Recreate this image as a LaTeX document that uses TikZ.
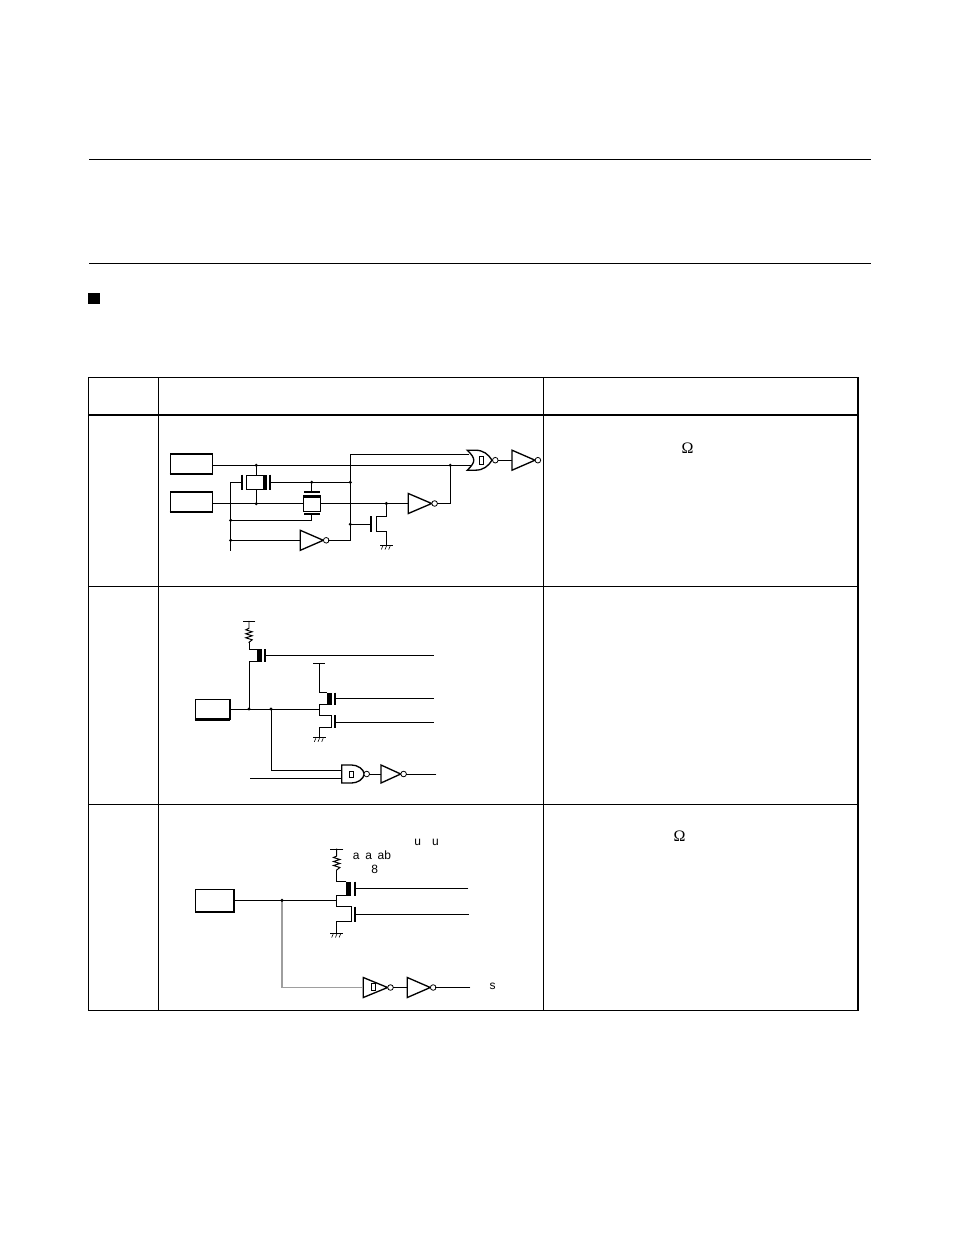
\documentclass[tikz,border=0pt]{standalone}
\usepackage{fontspec}
\setmainfont{Liberation Sans}
\newfontfamily\omfont{Liberation Serif}
\tikzset{
  x=0.75pt,y=-0.75pt,
  wire/.style={line width=0.74pt,line cap=rect},
  gray wire/.style={line width=0.95pt,draw=black!38},
  rule/.style={line width=0.7pt},
  grid line/.style={line width=0.74pt},
  head line/.style={line width=1.5pt},
  gatebar/.style={line width=1.5pt},
  junction/.style={circle,fill=black,inner sep=0pt,minimum size=2.6pt},
  bubble/.style={line width=0.6pt,fill=white},
  gateshape/.style={line width=1pt,fill=white,line join=miter},
  lbl/.style={inner sep=0pt,font=\fontsize{9}{10}\selectfont},
  om/.style={inner sep=0pt,font=\fontsize{12}{12}\selectfont\omfont},
  padbox/.style={draw,line width=0.9pt,fill=white,inner sep=0pt},
}
% inverter: name, left x, centre y, width, half height
\newcommand{\InvGate}[5]{%
  \begin{scope}[shift={(#2,#3)}]
    \draw[gateshape] (0,-#5) -- (#4,0) -- (0,#5) -- cycle;
    \draw[bubble] (#4+2.9,0) circle[radius=2.1pt];
    \coordinate (#1-in) at (0,0);
    \coordinate (#1-out) at (#4+5.6,0);
  \end{scope}}
% resistor: x, y of top bar, half width
\newcommand{\ResStack}[3]{%
  \begin{scope}[shift={(#1,#2)}]
    \draw[wire] (-#3,0) -- (#3,0);
    \draw[wire,line join=miter] (0,0) -- (0,7) -- (-3.2,8.5) -- (3.2,10.5) -- (-3.2,12.5) -- (3.2,14.5) -- (-3.2,16.5) -- (3.2,18.5) -- (0,21);
  \end{scope}}
% ground: x, y
\newcommand{\GndMark}[2]{%
  \begin{scope}[shift={(#1,#2)}]
    \draw[line width=1pt] (-6.3,0) -- (6.3,0);
    \draw[line width=0.45pt] (-3.5,0.5) -- (-5,4) (0.2,0.5) -- (-1.3,4) (3.9,0.5) -- (2.4,4);
  \end{scope}}
% transistor gate stack: left x, top y, bottom y, gate offset
\newcommand{\ThickGate}[4]{%
  \fill (#1,#2) rectangle (#1+5,#3);
  \draw[gatebar] (#1+#4,#2) -- (#1+#4,#3);}
\begin{document}
\begin{tikzpicture}
\useasboundingbox (0,0) rectangle (954,1235);
\fill[white] (0,0) rectangle (954,1235);

% page rules
\coordinate (ruleAL) at (89,159); \coordinate (ruleAR) at (871,159);
\coordinate (ruleBL) at (89,263.5); \coordinate (ruleBR) at (871,263.5);
\draw[rule] (ruleAL) -- (ruleAR);
\draw[rule] (ruleBL) -- (ruleBR);
\fill (88.3,293.2) rectangle (99.6,304.3);

% table
\draw[grid line] (88.5,377.5) rectangle (858,1010.5);
\draw[line width=1.1pt] (858,377.5) -- (858,1010.5);
\draw[grid line] (158.5,377.5) -- (158.5,1010.5);
\draw[grid line] (543.5,377.5) -- (543.5,1010.5);
\draw[head line] (88.5,414.5) -- (858,414.5);
\draw[grid line] (88.5,586.5) -- (858,586.5);
\draw[grid line] (88.5,804.5) -- (858,804.5);

% ===== row 1 =====
\node[padbox,minimum width=31.5pt,minimum height=14.8pt] (p1) at (191.3,463.8) {};
\draw[line width=1.4pt] (p1.south west) -- (p1.south east);
\node[padbox,minimum width=31.5pt,minimum height=14.8pt] (p2) at (191.3,501.8) {};
\draw[line width=1.4pt] (p2.south west) -- (p2.south east);

\coordinate (j1) at (256.3,465.3);
\coordinate (j2) at (256.3,503.7);
\coordinate (j3) at (311.7,482.3);
\coordinate (j4) at (350.3,482.3);
\coordinate (j5) at (350.3,524.3);
\coordinate (j6) at (230.7,520.3);
\coordinate (j7) at (230.7,540.3);
\coordinate (j8) at (386.3,503.5);
\coordinate (j9) at (450.3,465.3);
\coordinate (endL) at (230.7,550);
\coordinate (cornerL) at (230.7,482.3);
\coordinate (cornerT) at (350.3,454.3);
\coordinate (cornerB) at (350.3,540.3);

\draw[wire] (p1.east|-j1) -- (470.5,465.3);
\draw[wire] (p2.east|-j8) -- (408.3,503.5);
\draw[wire] (j1) -- (j2);
\draw[wire] (j3) -- (311.7,492);
\draw[wire] (311.7,513.7) -- (311.7,520.3) -- (j6);
\draw[wire] (269.7,482.3) -- (j4);
\draw[wire] (242.3,482.3) -- (cornerL) -- (endL);
% transmission gate 1
\draw[wire,fill=white] (246.3,475.3) rectangle (266.7,489.3);
\fill (263.3,475.3) rectangle (267.3,489.3);
\draw[gatebar] (242.3,474.5) -- (242.3,489.5);
\draw[gatebar] (269.9,474.5) -- (269.9,489.5);
% transmission gate 2
\draw[wire,fill=white] (303.3,495.5) rectangle (320.7,511.7);
\fill (303.3,495.3) rectangle (320.7,498.3);
\draw[gatebar] (304,492) -- (320,492);
\draw[gatebar] (304,513.7) -- (320,513.7);
% inverter bottom
\InvGate{i1}{300.3}{540.3}{23}{10}
\draw[wire] (j7) -- (i1-in);
\draw[wire] (i1-out) -- (cornerB) -- (cornerT) -- (468.5,454.3);
% mid inverter
\InvGate{i2}{408.3}{503.5}{23.4}{10}
\draw[wire] (i2-out) -- (450.3,503.5) -- (j9);
% nmos
\draw[wire] (j5) -- (370.7,524.3);
\draw[gatebar] (370.7,516) -- (370.7,532);
\draw[wire] (j8) -- (386.3,516.7) -- (376,516.7) -- (376,531.7) -- (386.3,531.7) -- (386.3,545);
\GndMark{386.3}{545.5}
% NOR
\begin{scope}[shift={(467.3,460.2)}]
  \draw[gateshape] (0,-10) -- (8,-10) .. controls (16,-10) and (21,-6) .. (24.7,0) .. controls (21,6) and (16,10) .. (8,10) -- (0,10) .. controls (4,6) and (6.5,3) .. (6.5,0) .. controls (6.5,-3) and (4,-6) .. (0,-10) -- cycle;
  \draw[line width=0.6pt] (12,-3.6) rectangle (16,4);
  \draw[bubble] (28,0) circle[radius=2.1pt];
  \coordinate (nor-out) at (30.8,0);
\end{scope}
\InvGate{i3}{512}{460.2}{23}{10}
\draw[wire] (nor-out) -- (i3-in);
\foreach \j in {j1,j2,j3,j4,j5,j6,j7,j8,j9} \node[junction] at (\j) {};

\node[om] (om1) at (687.5,448.5) {Ω};

% ===== row 2 =====
\node[padbox,minimum width=25.5pt,minimum height=14.7pt] (p3) at (212.3,709.2) {};
\draw[line width=1.4pt] (p3.south west) -- (p3.south east);
\draw[line width=1.2pt] (p3.south east) -- (p3.north east);
\coordinate (k1) at (249,709);
\coordinate (k2) at (271,709);
\coordinate (k3) at (319.3,709);
\draw[wire] (p3.east|-k1) -- (k3);
\ResStack{249}{621.3}{6}
\draw[wire] (249,642.3) -- (249,649.3) -- (257.3,649.3);
\draw[wire] (k1) -- (249,661.5) -- (257.3,661.5);
\ThickGate{257.3}{649.3}{661.7}{7.7}
\draw[wire] (265,655.3) -- (433.7,655.3);
% right pair
\draw[wire] (313.3,663.7) -- (324.7,663.7);
\draw[wire] (319.3,663.7) -- (319.3,692.7) -- (326.7,692.7);
\ThickGate{326.7}{692.7}{704.7}{8.3}
\draw[wire] (326.7,704.7) -- (319.3,704.7) -- (319.3,715.3) -- (331.7,715.3) -- (331.7,727.3) -- (319.3,727.3) -- (319.3,737.3);
\draw[gatebar] (335,715) -- (335,727.5);
\draw[wire] (335,698.3) -- (433.7,698.3);
\draw[wire] (335,722) -- (433.7,722);
\GndMark{319.3}{737.8}
% lower logic
\coordinate (lowleft) at (250,778.3);
\draw[wire] (k2) -- (271,770.3) -- (341.7,770.3);
\draw[wire] (lowleft) -- (341.7,778.3);
\begin{scope}[shift={(341.7,774)}]
  \draw[gateshape] (0,-9) -- (10,-9) .. controls (16,-9) and (22,-5) .. (22.5,0) .. controls (22,5) and (16,9) .. (10,9) -- (0,9) -- cycle;
  \draw[line width=0.6pt] (7.6,-2.6) rectangle (11.6,3);
  \draw[bubble] (25,0) circle[radius=2.1pt];
  \coordinate (nand-out) at (27.8,0);
\end{scope}
\InvGate{i4}{381}{774}{19.7}{9}
\draw[wire] (nand-out) -- (i4-in);
\coordinate (o4) at (436,774);
\draw[wire] (i4-out) -- (o4);
\foreach \j in {k1,k2} \node[junction] at (\j) {};

% ===== row 3 =====
\node[padbox,line width=1.2pt,minimum width=29.2pt,minimum height=17.2pt] (p4) at (214.8,900.8) {};
\coordinate (m1) at (282,900.3);
\coordinate (m2) at (336.7,900.3);
\draw[wire] (p4.east|-m1) -- (m2);
\ResStack{336.7}{849}{6.3}
\draw[wire] (336.7,870) -- (336.7,881.7) -- (346,881.7);
\ThickGate{346}{881.7}{895.7}{8.7}
\draw[wire] (346,895.7) -- (336.7,895.7) -- (336.7,906.7) -- (351,906.7) -- (351,921.7) -- (336.7,921.7) -- (336.7,933.3);
\draw[gatebar] (354.7,906.7) -- (354.7,921.7);
\draw[wire] (354.7,888) -- (468,888);
\draw[wire] (354.7,914.3) -- (468.7,914.3);
\GndMark{336.7}{933.5}
\InvGate{i5}{363.3}{987.5}{24.3}{10}
\draw[line width=0.6pt] (371.7,983.7) rectangle (375.7,990.8);
\draw[gray wire] (m1) -- (282,987.5) -- (i5-in);
\InvGate{i6}{407.3}{987.5}{23}{10}
\draw[wire] (i5-out) -- (i6-in);
\coordinate (o6) at (470,987.5);
\draw[wire] (i6-out) -- (o6);
\node[junction] at (m1) {};

\node[om] (om2) at (679.5,836.5) {Ω};
\node[lbl,anchor=base west] (t1) at (414,845) {\spaceskip=0.94em u u};
\node[lbl,anchor=base west] (t2) at (352.7,859) {\spaceskip=0.47em a a ab};
\node[lbl] (t3) at (374.7,869.3) {8};
\node[lbl] (t4) at (492.7,986.5) {s};
\end{tikzpicture}
\end{document}
